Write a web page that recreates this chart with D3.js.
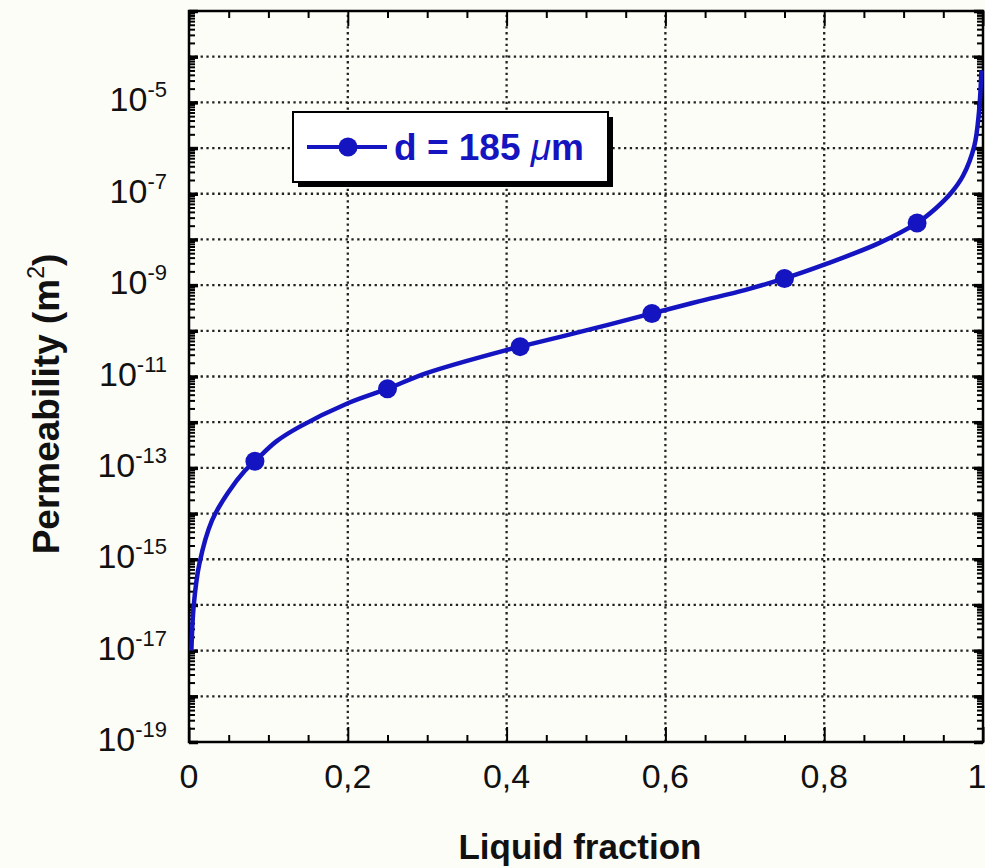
<!DOCTYPE html>
<html>
<head>
<meta charset="utf-8">
<script src="https://cdn.jsdelivr.net/npm/d3@7"></script>
<style>
  body { margin: 0; background: #fdfdf8; }
  svg { display: block; font-family: Arial, "Liberation Sans", sans-serif; }
</style>
</head>
<body>
<div id="chart-container"></div>
<script>
// curve (liquid fraction -> permeability, m^2)
const fraction = [0.003, 0.006, 0.013, 0.029, 0.05, 0.07, 0.083, 0.11, 0.139, 0.2, 0.25, 0.3, 0.4, 0.417,
    0.5, 0.583, 0.6, 0.642, 0.7, 0.75, 0.8, 0.869, 0.917, 0.94, 0.96, 0.975, 0.989, 0.995, 0.998];
const permeability = [1e-17, 1e-16, 7.9e-16, 7.1e-15, 3.0e-14, 8.5e-14, 1.4e-13, 3.8e-13, 7.9e-13, 2.6e-12,
    5.4e-12, 1.2e-11, 3.8e-11, 4.5e-11, 1.02e-10, 2.4e-10, 2.85e-10, 4.4e-10, 7.8e-10, 1.4e-9, 2.8e-9,
    8.3e-9, 2.3e-8, 4.7e-8, 1.05e-7, 2.5e-7, 1.1e-6, 6.3e-6, 5e-5];

// marked points
const markerFraction = [0.083, 0.25, 0.417, 0.583, 0.75, 0.917];
const markerPerm = [1.4e-13, 5.4e-12, 4.5e-11, 2.4e-10, 1.4e-9, 2.3e-8];

const xTicks = [0, 0.2, 0.4, 0.6, 0.8, 1];
const xTickLabels = ["0", "0,2", "0,4", "0,6", "0,8", "1"];
const yLabelExponents = [-5, -7, -9, -11, -13, -15, -17, -19];
const seriesName = "d = 185 ";

const W = 985, H = 868;
const blue = "#1414c0";

const svg = d3.select("#chart-container")
    .append("svg")
    .attr("width", W)
    .attr("height", H);

const x = d3.scaleLinear().domain([0, 1]).range([189, 983]);
const y = d3.scaleLog().domain([1e-19, 1e-3]).range([742, 11]);

const decades = d3.range(-19, -2).map(e => Math.pow(10, e));
const minorY = [];
decades.slice(0, -1).forEach(d => { for (let k = 2; k <= 9; k++) minorY.push(d * k); });
const minorX = d3.range(0, 21).map(i => i * 0.05).filter(v => Math.abs(v * 5 - Math.round(v * 5)) > 1e-6);

// grid
svg.append("g").selectAll("line")
    .data(decades.slice(1, -1))
    .enter().append("line")
    .attr("x1", x(0)).attr("x2", x(1))
    .attr("y1", d => y(d)).attr("y2", d => y(d))
    .attr("stroke", "#222").attr("stroke-width", 2.3)
    .attr("stroke-dasharray", "2.3,3.5");

svg.append("g").selectAll("line")
    .data(xTicks.slice(1, -1))
    .enter().append("line")
    .attr("x1", d => x(d)).attr("x2", d => x(d))
    .attr("y1", y.range()[0]).attr("y2", y.range()[1])
    .attr("stroke", "#222").attr("stroke-width", 2.3)
    .attr("stroke-dasharray", "2.3,3.5");

// ticks (inward), all four sides
function tickAxis(axis, tr, size, values) {
    const g = svg.append("g")
        .attr("transform", tr)
        .call(axis.tickValues(values).tickSize(size).tickFormat(""));
    g.select(".domain").remove();
    g.selectAll("line").attr("stroke", "#000").attr("stroke-width", 2);
    return g;
}
tickAxis(d3.axisBottom(x), `translate(0,${y.range()[0]})`, -15, xTicks);
tickAxis(d3.axisBottom(x), `translate(0,${y.range()[0]})`, -7, minorX);
tickAxis(d3.axisTop(x), `translate(0,${y.range()[1]})`, -15, xTicks);
tickAxis(d3.axisTop(x), `translate(0,${y.range()[1]})`, -7, minorX);
tickAxis(d3.axisLeft(y), `translate(${x.range()[0]},0)`, -9, decades).selectAll("line").attr("stroke-width", 3.5);
tickAxis(d3.axisLeft(y), `translate(${x.range()[0]},0)`, -6, minorY);
tickAxis(d3.axisRight(y), `translate(${x.range()[1]},0)`, -9, decades).selectAll("line").attr("stroke-width", 3.5);
tickAxis(d3.axisRight(y), `translate(${x.range()[1]},0)`, -6, minorY);

// frame
svg.append("rect")
    .attr("x", x.range()[0]).attr("y", y.range()[1])
    .attr("width", x.range()[1] - x.range()[0])
    .attr("height", y.range()[0] - y.range()[1])
    .attr("fill", "none").attr("stroke", "#000").attr("stroke-width", 2.5);

// tick labels
svg.append("g").selectAll("text")
    .data(xTicks)
    .enter().append("text")
    .attr("x", d => Math.min(x(d), 977))
    .attr("y", 788)
    .attr("text-anchor", "middle")
    .attr("font-size", 34)
    .attr("fill", "#111")
    .text((d, i) => xTickLabels[i]);

const yl = svg.append("g").selectAll("text")
    .data(yLabelExponents)
    .enter().append("text")
    .attr("x", 167)
    .attr("y", d => y(Math.pow(10, d)) + 9)
    .attr("text-anchor", "end")
    .attr("font-size", 34)
    .attr("fill", "#111");
yl.append("tspan").text("10");
yl.append("tspan").attr("dy", -14).attr("font-size", 22).text(d => String(d));

// axis titles
svg.append("text")
    .attr("x", 580).attr("y", 859)
    .attr("text-anchor", "middle")
    .attr("font-size", 35).attr("font-weight", "bold")
    .attr("fill", "#111")
    .text("Liquid fraction");

const yt = svg.append("text")
    .attr("transform", "translate(59,404) rotate(-90)")
    .attr("text-anchor", "middle")
    .attr("font-size", 37).attr("font-weight", "bold")
    .attr("fill", "#111");
yt.append("tspan").text("Permeability (m");
yt.append("tspan").attr("dy", -15).attr("font-size", 23).attr("font-weight", "normal").text("2");
yt.append("tspan").attr("dy", 15).text(")");

// curve
const pts = fraction.map((f, i) => [f, permeability[i]]);
const line = d3.line()
    .x(d => x(d[0]))
    .y(d => y(d[1]))
    .curve(d3.curveCatmullRom.alpha(0.5));

svg.append("path")
    .datum(pts)
    .attr("d", line)
    .attr("fill", "none")
    .attr("stroke", blue)
    .attr("stroke-width", 4.5);

svg.append("g").selectAll("circle")
    .data(markerFraction)
    .enter().append("circle")
    .attr("cx", d => x(d))
    .attr("cy", (d, i) => y(markerPerm[i]))
    .attr("r", 9.5)
    .attr("fill", blue);

// legend
const lg = svg.append("g").attr("transform", "translate(293,112)");
lg.append("rect").attr("x", 5).attr("y", 5).attr("width", 315).attr("height", 70).attr("fill", "#000");
lg.append("rect").attr("width", 315).attr("height", 70)
    .attr("fill", "#fff").attr("stroke", "#000").attr("stroke-width", 2);
lg.append("line").attr("x1", 14).attr("x2", 94).attr("y1", 35).attr("y2", 35)
    .attr("stroke", blue).attr("stroke-width", 4);
lg.append("circle").attr("cx", 55).attr("cy", 35).attr("r", 9.5).attr("fill", blue);
const lt = lg.append("text")
    .attr("x", 101).attr("y", 48)
    .attr("font-size", 37).attr("font-weight", "bold")
    .attr("fill", blue);
lt.append("tspan").text(seriesName);
lt.append("tspan").attr("font-style", "italic").attr("font-weight", "normal").text("μ");
lt.append("tspan").text("m");
</script>
</body>
</html>
